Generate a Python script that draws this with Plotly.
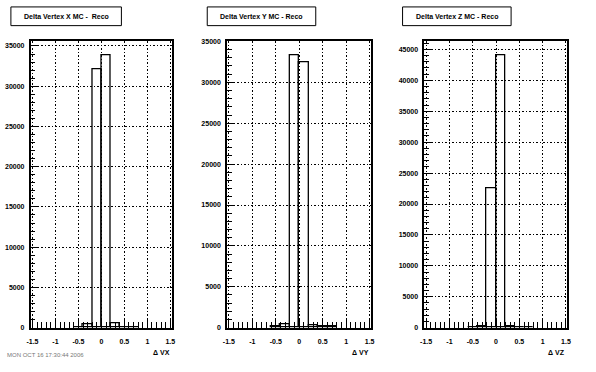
import plotly.graph_objects as go

# ---- data ----
bin_centers = [-0.5, -0.3, -0.1, 0.1, 0.3, 0.5, 0.7]
bin_width = 0.2
counts_vx = [100, 350, 32100, 33820, 500, 100, 100]
counts_vy = [100, 400, 33290, 32450, 250, 100, 100]
counts_vz = [0, 200, 22570, 44040, 200, 0, 0]
y_max = [35570, 35010, 46300]
titles = ["Delta Vertex X MC -  Reco", "Delta Vertex Y MC - Reco", "Delta Vertex Z MC - Reco"]
axis_titles = ["\u0394 VX", "\u0394 VY", "\u0394 VZ"]
x_ticks = [-1.5, -1, -0.5, 0, 0.5, 1, 1.5]
x_tick_labels = ["-1.5", "-1", "-0.5", "0", "0.5", "1", "1.5"]
x_minor = [-1.4, -1.3, -1.2, -1.1, -0.9, -0.8, -0.7, -0.6, -0.4, -0.3, -0.2, -0.1,
           0.1, 0.2, 0.3, 0.4, 0.6, 0.7, 0.8, 0.9, 1.1, 1.2, 1.3, 1.4]

W, H = 596, 372
# frames in pixel coordinates (left, right, top, bottom)
frames = [(27, 170, 39, 330), (226, 372, 39, 330), (426, 571, 39, 330)]
title_boxes = [(7, 119, 4, 23), (206, 316, 4, 23), (404, 514, 4, 23)]

fig = go.Figure()
font = "Liberation Sans, Arial, sans-serif"
all_counts = [counts_vx, counts_vy, counts_vz]

for i, (cnt, fr) in enumerate(zip(all_counts, frames)):
    xa = "x" if i == 0 else f"x{i+1}"
    ya = "y" if i == 0 else f"y{i+1}"
    fig.add_trace(go.Bar(
        x=bin_centers, y=cnt, width=bin_width, xaxis=xa, yaxis=ya,
        marker=dict(color="rgba(0,0,0,0)", line=dict(color="black", width=1.3)),
        showlegend=False, hoverinfo="skip",
    ))
    l, r, t, b = fr
    xdom = [l / W, r / W]
    ydom = [(H - b) / H, (H - t) / H]
    xkey = "xaxis" if i == 0 else f"xaxis{i+1}"
    ykey = "yaxis" if i == 0 else f"yaxis{i+1}"
    fig.update_layout(**{
        xkey: dict(
            domain=xdom, anchor=ya, range=[-1.54, 1.53],
            tickmode="array", tickvals=x_ticks, ticktext=x_tick_labels,
            ticks="inside", ticklen=10, tickwidth=1, tickcolor="black",
            minor=dict(tickmode="array", tickvals=x_minor, ticks="inside", ticklen=6,
                       tickwidth=1, tickcolor="black", showgrid=False),
            showgrid=True, gridcolor="black", griddash="1.5px,2px", gridwidth=1,
            showline=True, linecolor="black", linewidth=1.5, mirror=True,
            zeroline=False, ticklabelstandoff=6,
            tickfont=dict(family=font, size=7, color="black", weight="bold"),
        ),
        ykey: dict(
            domain=ydom, anchor=xa, range=[0, y_max[i]],
            tickmode="linear", dtick=5000, tick0=0, tickformat="d",
            ticks="inside", ticklen=8, tickwidth=1, tickcolor="black",
            minor=dict(tickmode="linear", dtick=1000, tick0=0, ticks="inside", ticklen=5,
                       tickwidth=1, tickcolor="black", showgrid=False),
            showgrid=True, gridcolor="black", griddash="1.5px,2px", gridwidth=1,
            showline=True, linecolor="black", linewidth=1.5, mirror=True,
            zeroline=False, ticklabelstandoff=3,
            tickfont=dict(family=font, size=7, color="black", weight="bold"),
        ),
    })
    # axis title
    fig.add_annotation(
        x=r / W, y=(H - 355) / H, xref="paper", yref="paper",
        xanchor="right", yanchor="middle", showarrow=False,
        text=axis_titles[i], font=dict(family=font, size=7, color="black", weight="bold"),
    )
    # title box
    tl, tr, tt, tb = title_boxes[i]
    fig.add_shape(type="rect", xref="paper", yref="paper",
                  x0=tl / W, x1=tr / W, y0=(H - tb) / H, y1=(H - tt) / H,
                  line=dict(color="black", width=1), fillcolor="white")
    fig.add_annotation(
        x=(tl + tr) / 2 / W, y=(H - (tt + tb) / 2) / H, xref="paper", yref="paper",
        xanchor="center", yanchor="middle", showarrow=False,
        text=titles[i], font=dict(family=font, size=7, color="black", weight="bold"),
    )

# date stamp (faint)
fig.add_annotation(
    x=1 / W, y=(H - 358) / H, xref="paper", yref="paper",
    xanchor="left", yanchor="middle", showarrow=False,
    text="MON OCT 16 17:30:44 2006", font=dict(family=font, size=6, color="#777777"),
)

fig.update_layout(
    width=W, height=H, margin=dict(l=0, r=0, t=0, b=0),
    paper_bgcolor="white", plot_bgcolor="white", bargap=0,
)

fig.write_html("out.html")
